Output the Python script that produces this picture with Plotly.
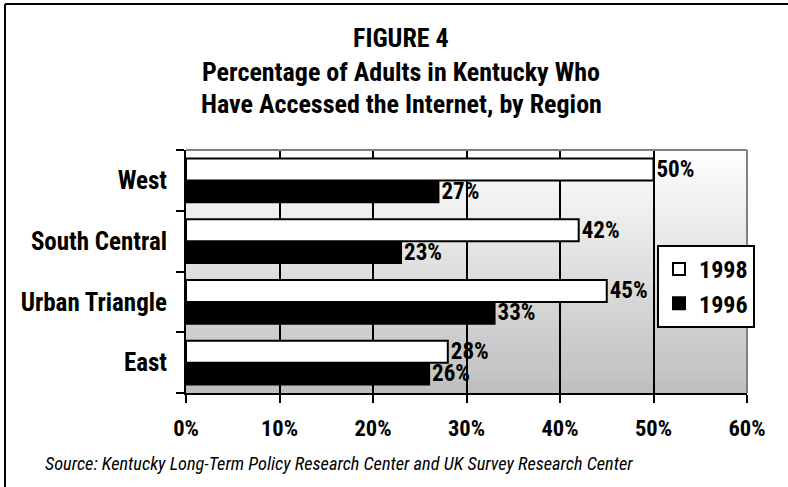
import plotly.graph_objects as go

regions = ["East", "Urban Triangle", "South Central", "West"]  # bottom to top
vals_1998 = [28, 45, 42, 50]
vals_1996 = [26, 33, 23, 27]
x_ticks = [0, 10, 20, 30, 40, 50, 60]
x_tick_labels = ["0%", "10%", "20%", "30%", "40%", "50%", "60%"]

W, H = 788, 487
L, R, T, B = 186, 41, 150, 94
PW, PH = W - L - R, H - T - B

def px_x(p):
    return (p - L) / PW

def px_y(p):
    return (H - B - p) / PH

FONT = "Roboto Condensed, Arial Narrow, sans-serif"
BOLD = dict(family=FONT, color="black", weight="bold")

fig = go.Figure()
fig.add_trace(go.Bar(
    name="1996", y=regions, x=vals_1996, orientation="h",
    marker=dict(color="black", line=dict(color="black", width=2)),
    text=[f"{v}%" for v in vals_1996], textposition="outside",
    textfont=dict(BOLD, size=23), constraintext="none",
    cliponaxis=False,
))
fig.add_trace(go.Bar(
    name="1998", y=regions, x=vals_1998, orientation="h",
    marker=dict(color="white", line=dict(color="black", width=2)),
    text=[f"{v}%" for v in vals_1998], textposition="outside",
    textfont=dict(BOLD, size=23), constraintext="none",
    cliponaxis=False,
))

shapes = []
# vertical gradient background (style only)
N = 80
for i in range(N):
    t = (i + 0.5) / N  # 0 top -> 1 bottom
    g = int(round(255 - (255 - 190) * t))
    shapes.append(dict(type="rect", xref="paper", yref="paper",
                       x0=0, x1=1, y0=1 - (i + 1) / N, y1=1 - i / N + 0.002,
                       fillcolor=f"rgb({g},{g},{g})", line=dict(width=0),
                       layer="below"))
# gray top and right border of plot
shapes.append(dict(type="line", xref="paper", yref="paper", x0=0, x1=1, y0=1, y1=1,
                   line=dict(color="#808080", width=2), layer="above"))
shapes.append(dict(type="line", xref="paper", yref="paper", x0=1, x1=1, y0=0, y1=1,
                   line=dict(color="#808080", width=2), layer="above"))
# outer frame (left and top)
shapes.append(dict(type="line", xref="paper", yref="paper",
                   x0=px_x(5), x1=px_x(5), y0=px_y(H + 5), y1=px_y(4),
                   line=dict(color="black", width=2), layer="above"))
shapes.append(dict(type="line", xref="paper", yref="paper",
                   x0=px_x(5), x1=px_x(W + 5), y0=px_y(4), y1=px_y(4),
                   line=dict(color="black", width=2), layer="above"))

title_lines = ["FIGURE 4", "Percentage of Adults in Kentucky Who",
               "Have Accessed the Internet, by Region"]
title_y = [38, 72, 104]
annotations = []
for txt, yy in zip(title_lines, title_y):
    annotations.append(dict(text=txt, xref="paper", yref="paper",
                            x=px_x(401), y=px_y(yy), xanchor="center", yanchor="middle",
                            showarrow=False, font=dict(BOLD, size=26)))
annotations.append(dict(
    text="<i>Source: Kentucky Long-Term Policy Research Center and UK Survey Research Center</i>",
    xref="paper", yref="paper", x=px_x(43), y=px_y(463), xanchor="left", yanchor="middle",
    showarrow=False, font=dict(family=FONT, size=18.3, color="black")))

fig.update_layout(
    width=W, height=H,
    margin=dict(l=L, r=R, t=T, b=B, pad=0, autoexpand=False),
    paper_bgcolor="white", plot_bgcolor="rgba(0,0,0,0)",
    barmode="group", bargap=0.28, bargroupgap=0,
    showlegend=True,
    legend=dict(traceorder="reversed", x=px_x(657), y=px_y(245), xanchor="left", yanchor="top",
                bgcolor="white", bordercolor="black", borderwidth=2,
                font=dict(BOLD, size=24),
                itemsizing="constant", tracegroupgap=0, itemwidth=30),
    shapes=shapes, annotations=annotations,
    font=dict(family=FONT, color="black"),
)
fig.update_xaxes(range=[0, 60], tickvals=x_ticks, ticktext=x_tick_labels,
                 showgrid=True, gridcolor="black", gridwidth=2,
                 showline=True, linecolor="black", linewidth=2,
                 ticks="outside", ticklen=8, tickwidth=2, tickcolor="black",
                 ticklabelstandoff=6, automargin=False,
                 tickfont=dict(BOLD, size=22.5),
                 zeroline=False, fixedrange=True)
fig.update_yaxes(type="category", categoryorder="array", categoryarray=regions,
                 tickson="boundaries", ticks="outside", ticklen=8, tickwidth=2, tickcolor="black",
                 showline=True, linecolor="black", linewidth=2, showgrid=False,
                 ticklabelstandoff=12, automargin=False,
                 tickfont=dict(BOLD, size=25),
                 fixedrange=True)
fig.write_html("out.html", config={"displayModeBar": False},
               post_script="document.body.style.margin='0px';")
